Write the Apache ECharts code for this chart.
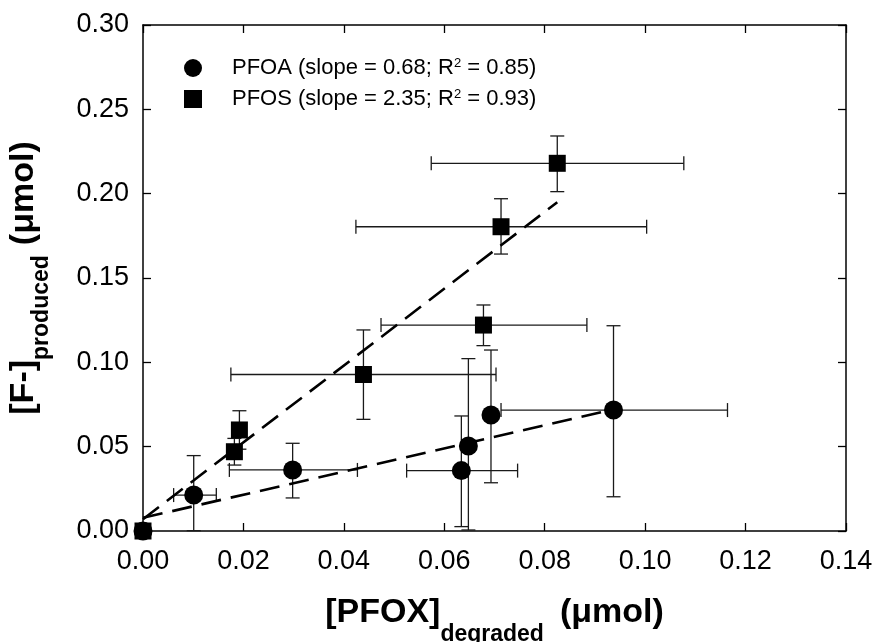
<!DOCTYPE html>
<html>
<head>
<meta charset="utf-8">
<script src="https://cdn.jsdelivr.net/npm/echarts@6/dist/echarts.min.js"></script>
<style>
  html, body { margin: 0; padding: 0; background: #ffffff; }
  #chart { width: 875px; height: 642px; }
</style>
</head>
<body>
<div id="chart"></div>
<script>
// Axis ranges and tick steps
const xRange = [0, 0.14];
const xStep = 0.02;
const yRange = [0, 0.30];
const yStep = 0.05;

// PFOA: fluoride produced vs. amount degraded, with error ranges
const pfoaX     = [0, 0.0101, 0.0298, 0.0634, 0.0648, 0.0693, 0.0937];
const pfoaY     = [0, 0.0213, 0.0362, 0.0358, 0.0504, 0.0688, 0.0717];
const pfoaXLow  = [null, 0.0061, 0.0172, 0.0525, null, null, 0.0713];
const pfoaXHigh = [null, 0.0146, 0.0427, 0.0746, null, null, 0.1164];
const pfoaYLow  = [null, 0.0002, 0.0196, 0.0026, 0.0006, 0.0286, 0.0203];
const pfoaYHigh = [null, 0.0447, 0.0520, 0.0682, 0.1022, 0.1073, 0.1217];

// PFOS
const pfosX     = [0, 0.0182, 0.0192, 0.0439, 0.0678, 0.0713, 0.0825];
const pfosY     = [0, 0.0470, 0.0599, 0.0928, 0.1221, 0.1804, 0.2180];
const pfosXLow  = [null, null, null, 0.0175, 0.0474, 0.0424, 0.0574];
const pfosXHigh = [null, null, null, 0.0703, 0.0884, 0.1003, 0.1077];
const pfosYLow  = [null, 0.0391, 0.0485, 0.0662, 0.1099, 0.1642, 0.2012];
const pfosYHigh = [null, 0.0549, 0.0713, 0.1192, 0.1340, 0.1970, 0.2342];

// Linear fits (end points) and their statistics
const pfoaFitX = [0, 0.0917];
const pfoaFitY = [0.0078, 0.0707];
const pfosFitX = [0, 0.0825];
const pfosFitY = [0.0070, 0.1949];
const seriesNames = ['PFOA', 'PFOS'];
const fitSlopes = ['0.68', '2.35'];
const fitR2 = ['0.85', '0.93'];

const FONT = "'Liberation Sans', Arial, Helvetica, sans-serif";
const INK = '#000000';

function pairs(xs, ys) { return xs.map((v, i) => [v, ys[i]]); }

function errorBars(name, xs, ys, xl, xh, yl, yh) {
  return {
    type: 'custom',
    name: name + ' error',
    silent: true,
    z: 2,
    data: pairs(xs, ys),
    renderItem(params, api) {
      const i = params.dataIndex;
      const c = api.coord([xs[i], ys[i]]);
      const cap = 7;
      const style = { stroke: '#1a1a1a', lineWidth: 1.3, fill: null };
      const kids = [];
      if (yl[i] != null) {
        const lo = api.coord([xs[i], yl[i]]);
        const hi = api.coord([xs[i], yh[i]]);
        kids.push({ type: 'line', shape: { x1: c[0], y1: lo[1], x2: c[0], y2: hi[1] }, style });
        kids.push({ type: 'line', shape: { x1: c[0] - cap, y1: lo[1], x2: c[0] + cap, y2: lo[1] }, style });
        kids.push({ type: 'line', shape: { x1: c[0] - cap, y1: hi[1], x2: c[0] + cap, y2: hi[1] }, style });
      }
      if (xl[i] != null) {
        const lo = api.coord([xl[i], ys[i]]);
        const hi = api.coord([xh[i], ys[i]]);
        kids.push({ type: 'line', shape: { x1: lo[0], y1: c[1], x2: hi[0], y2: c[1] }, style });
        kids.push({ type: 'line', shape: { x1: lo[0], y1: c[1] - cap, x2: lo[0], y2: c[1] + cap }, style });
        kids.push({ type: 'line', shape: { x1: hi[0], y1: c[1] - cap, x2: hi[0], y2: c[1] + cap }, style });
      }
      return { type: 'group', children: kids };
    }
  };
}

function fitLine(name, xs, ys) {
  return {
    type: 'line',
    name: name + ' fit',
    data: pairs(xs, ys),
    symbol: 'none',
    silent: true,
    z: 3,
    lineStyle: { color: INK, width: 2.6, type: [20, 10] }
  };
}

// Frame line and inward-pointing ticks, shared by all four sides
const axisLine = () => ({ show: true, onZero: false, lineStyle: { color: INK, width: 1.5 } });
const axisTick = () => ({ show: true, inside: false, length: -8, lineStyle: { color: INK, width: 1.3 } });

function titleRich(mainSize, subSize, lineH, unitGap) {
  const main = { fontFamily: FONT, fontSize: mainSize, fontWeight: 'bold', color: INK, lineHeight: lineH, verticalAlign: 'middle' };
  return {
    b: main,
    u: Object.assign({}, main, { padding: [0, 0, 0, unitGap] }),
    s: { fontFamily: FONT, fontSize: subSize, fontWeight: 'bold', color: INK, lineHeight: subSize, verticalAlign: 'bottom' }
  };
}

const chart = echarts.init(document.getElementById('chart'), null, { renderer: 'canvas' });

chart.setOption({
  backgroundColor: '#ffffff',
  animation: false,
  grid: { left: 143, right: 29, top: 25, bottom: 111, outerBoundsMode: 'none', containLabel: false },
  legend: {
    orient: 'vertical',
    left: 179,
    top: 52,
    itemWidth: 18,
    itemHeight: 18,
    itemGap: 9,
    data: [{ name: seriesNames[0], icon: 'circle' }, { name: seriesNames[1], icon: 'rect' }],
    itemStyle: { opacity: 1 },
    formatter: name => {
      const k = seriesNames.indexOf(name);
      return name + ' (slope = ' + fitSlopes[k] + '; R{sup|2} = ' + fitR2[k] + ')';
    },
    textStyle: {
      fontFamily: FONT, fontSize: 22, color: INK, lineHeight: 22,
      padding: [0, 0, 0, 25],
      rich: { sup: { fontFamily: FONT, fontSize: 13, color: INK, verticalAlign: 'top', lineHeight: 13 } }
    }
  },
  xAxis: [{
    type: 'value', min: xRange[0], max: xRange[1], interval: xStep,
    position: 'bottom',
    axisLine: axisLine(), axisTick: axisTick(), splitLine: { show: false },
    axisLabel: { fontFamily: FONT, fontSize: 27, color: INK, margin: 17, formatter: v => v.toFixed(2) },
    name: '{b|[PFOX]}{s|degraded}{u|(μmol)}',
    nameLocation: 'middle', nameGap: 49,
    nameTextStyle: { rich: titleRich(34, 23, 66, 16) }
  }, {
    type: 'value', min: xRange[0], max: xRange[1], interval: xStep,
    position: 'top',
    axisLine: axisLine(), axisTick: axisTick(), splitLine: { show: false },
    axisLabel: { show: false }
  }],
  yAxis: [{
    type: 'value', min: yRange[0], max: yRange[1], interval: yStep,
    position: 'left',
    axisLine: axisLine(), axisTick: axisTick(), splitLine: { show: false },
    axisLabel: { fontFamily: FONT, fontSize: 27, color: INK, margin: 14, formatter: v => v.toFixed(2) },
    name: '{b|[F-]}{s|produced}{u|(μmol)}',
    nameLocation: 'middle', nameGap: 90,
    nameTextStyle: { rich: titleRich(34, 23, 58, 10) }
  }, {
    type: 'value', min: yRange[0], max: yRange[1], interval: yStep,
    position: 'right',
    axisLine: axisLine(), axisTick: axisTick(), splitLine: { show: false },
    axisLabel: { show: false }
  }],
  series: [
    errorBars(seriesNames[0], pfoaX, pfoaY, pfoaXLow, pfoaXHigh, pfoaYLow, pfoaYHigh),
    errorBars(seriesNames[1], pfosX, pfosY, pfosXLow, pfosXHigh, pfosYLow, pfosYHigh),
    fitLine(seriesNames[0], pfoaFitX, pfoaFitY),
    fitLine(seriesNames[1], pfosFitX, pfosFitY),
    {
      type: 'scatter', name: seriesNames[0], data: pairs(pfoaX, pfoaY),
      symbol: 'circle', symbolSize: 19, z: 4,
      itemStyle: { color: '#000000', opacity: 1 }
    },
    {
      type: 'scatter', name: seriesNames[1], data: pairs(pfosX, pfosY),
      symbol: 'rect', symbolSize: 17, z: 5,
      itemStyle: { color: '#000000', opacity: 1 }
    }
  ]
});
</script>
</body>
</html>
